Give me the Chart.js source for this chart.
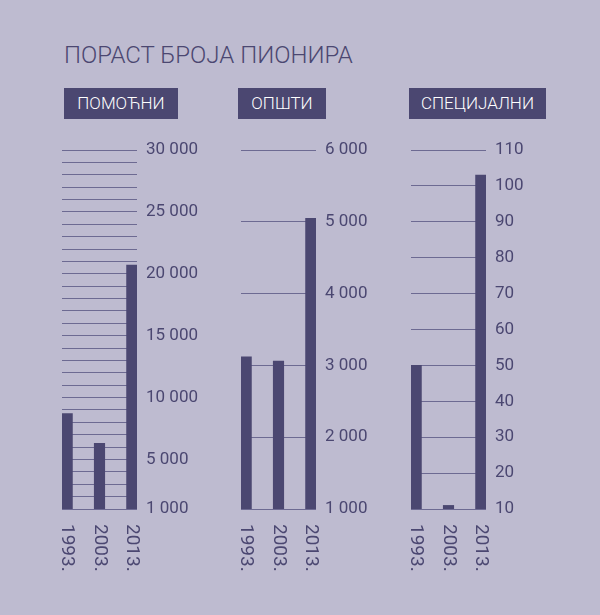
<!DOCTYPE html>
<html>
<head>
<meta charset="utf-8">
<script src="https://cdn.jsdelivr.net/npm/chart.js@4/dist/chart.umd.min.js"></script>
<style>
  html, body { margin: 0; padding: 0; }
  body { width: 600px; height: 615px; background: #bebbd0; position: relative; overflow: hidden; font-family: Roboto, sans-serif; }
  .title { position: absolute; left: 64px; top: 41px; font-size: 24px; font-weight: 300; color: #4b4771; line-height: 28px; white-space: nowrap; }
  .head { position: absolute; top: 88px; height: 31px; line-height: 31px; background: #4b4771; color: #fff; font-size: 17px; font-weight: 300; text-align: center; }
  .panel { position: absolute; top: 130px; width: 155px; height: 460px; }
</style>
</head>
<body>
<div class="title">ПОРАСТ БРОЈА ПИОНИРА</div>
<div class="head" style="left:64px;width:114px">ПОМОЋНИ</div>
<div class="head" style="left:238px;width:88px">ОПШТИ</div>
<div class="head" style="left:409px;width:137px">СПЕЦИЈАЛНИ</div>

<div class="panel" style="left:52px"><canvas id="c1"></canvas></div>
<div class="panel" style="left:231px"><canvas id="c2"></canvas></div>
<div class="panel" style="left:401px"><canvas id="c3"></canvas></div>

<script>
// categories
const years = ['1993.', '2003.', '2013.'];

// series values
const pomocni = [8700, 6300, 20700];
const opsti = [3120, 3060, 5050];
const specijalni = [50, 11, 103];

// axis ranges / tick steps
const pomocniAxis = [1000, 30000, 1000];
const opstiAxis = [1000, 6000, 1000];
const specijalniAxis = [10, 110, 10];

const ink = '#4b4771';
const gridColor = '#6d6a92';

function fmt(v) {
    return String(v).replace(/\B(?=(\d{3})+(?!\d))/g, ' ');
}

// year labels run top to bottom under each bar
const yearLabels = {
    id: 'yearLabels',
    afterDraw(chart) {
        const ctx = chart.ctx;
        const xs = chart.scales.x;
        ctx.save();
        ctx.fillStyle = ink;
        ctx.font = '19px Roboto';
        ctx.textAlign = 'left';
        ctx.textBaseline = 'middle';
        years.forEach((y, i) => {
            ctx.save();
            ctx.translate(xs.getPixelForValue(i), chart.chartArea.bottom + 15);
            ctx.rotate(Math.PI / 2);
            ctx.fillText(y, 0, 0);
            ctx.restore();
        });
        ctx.restore();
    }
};

function makeChart(id, values, axis, showTick) {
    new Chart(document.getElementById(id), {
        type: 'bar',
        data: {
            datasets: [{
                data: values.map((v, i) => ({ x: i, y: v })),
                backgroundColor: ink,
                barThickness: 10.5
            }]
        },
        options: {
            responsive: true,
            maintainAspectRatio: false,
            animation: false,
            layout: { padding: { top: 20, bottom: 81, left: 10, right: 0 } },
            plugins: { legend: { display: false }, tooltip: { enabled: false } },
            scales: {
                x: {
                    type: 'linear',
                    offset: false,
                    min: -0.16,
                    max: 2.16,
                    display: false
                },
                y: {
                    position: 'right',
                    min: axis[0],
                    max: axis[1],
                    afterFit: s => { s.width = 70; },
                    border: { display: false },
                    grid: { color: gridColor, lineWidth: 1, drawTicks: false },
                    ticks: {
                        stepSize: axis[2],
                        autoSkip: false,
                        padding: 9,
                        color: ink,
                        font: { family: 'Roboto', size: 17 },
                        callback: v => showTick(v) ? fmt(v) : ''
                    }
                }
            }
        },
        plugins: [yearLabels]
    });
}

makeChart('c1', pomocni, pomocniAxis, v => v === 1000 || v % 5000 === 0);
makeChart('c2', opsti, opstiAxis, () => true);
makeChart('c3', specijalni, specijalniAxis, () => true);
</script>
</body>
</html>
